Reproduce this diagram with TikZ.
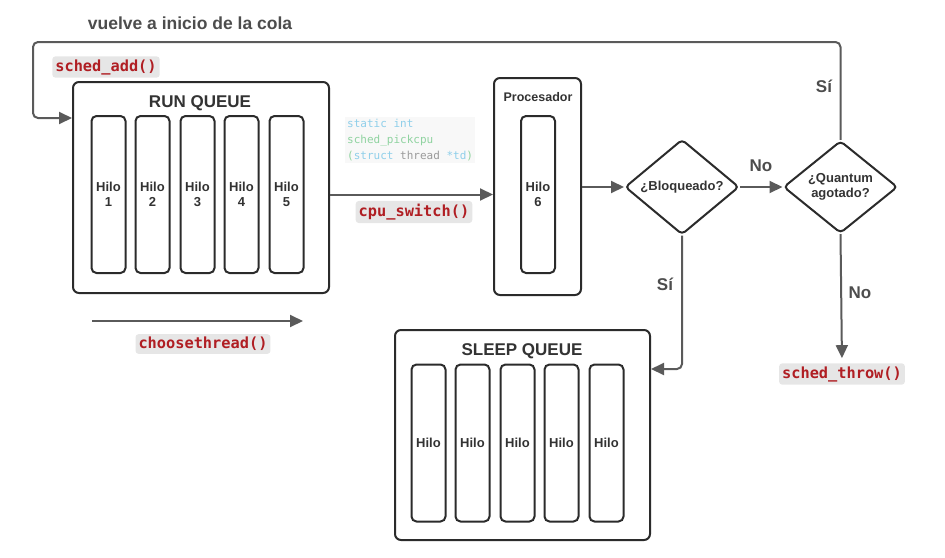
\documentclass[tikz,border=0pt]{standalone}
\usepackage{fontspec}
\setmainfont{Liberation Sans}
\newfontfamily\codefont{DejaVu Sans Mono}
\usetikzlibrary{arrows.meta,shapes.geometric,calc}
\definecolor{boxline}{HTML}{2B2B2B}
\definecolor{arrline}{HTML}{5A5A5A}
\definecolor{txt}{HTML}{333333}
\definecolor{lbl}{HTML}{4D4D4D}
\definecolor{codebg}{HTML}{E6E6E6}
\definecolor{codered}{HTML}{B01E23}
\definecolor{cblue}{HTML}{8FCFEA}
\definecolor{cgreen}{HTML}{8FD3A0}
\definecolor{cgray}{HTML}{9A9A9A}
\definecolor{lightbg}{HTML}{F8F8F8}
\tikzset{
  outerbox/.style={draw=boxline,line width=2pt,rounded corners=6pt,inner sep=0pt},
  hilobox/.style={draw=boxline,line width=2pt,rounded corners=5pt,minimum width=34pt,minimum height=157pt,inner sep=0pt,align=center,font=\fontsize{13}{15}\selectfont\bfseries,text=txt},
  decision/.style={diamond,draw=boxline,line width=2pt,rounded corners=4pt,minimum width=114pt,minimum height=88pt,inner sep=0pt,align=center,font=\fontsize{13}{15.5}\selectfont\bfseries,text=txt},
  codelabel/.style={fill=codebg,rounded corners=3pt,inner xsep=3pt,inner ysep=3pt,text=codered,font=\codefont\fontsize{15.3}{17}\selectfont\bfseries},
  arrow/.style={draw=arrline,line width=2pt,-{Triangle[length=13pt,width=12pt]}},
  plain/.style={draw=arrline,line width=2pt},
  edgelabel/.style={text=lbl,font=\fontsize{17}{19}\selectfont\bfseries},
  boxtitle/.style={text=txt,font=\fontsize{17}{19}\selectfont\bfseries},
}
\begin{document}
\begin{tikzpicture}[x=1pt,y=-1pt]
\useasboundingbox (0,0) rectangle (945,557);

% title
\node[text=lbl,font=\fontsize{17.5}{20}\selectfont\bfseries] (title) at (190,23) {vuelve a inicio de la cola};

% run queue
\node[outerbox,minimum width=256pt,minimum height=211pt] (rq) at (201,187.5) {};
\node[boxtitle] (rqt) at (200,103) {RUN QUEUE};
\node[hilobox] (h1) at (108.5,194.5) {Hilo\\1};
\node[hilobox] (h2) at (152.5,194.5) {Hilo\\2};
\node[hilobox] (h3) at (197.5,194.5) {Hilo\\3};
\node[hilobox] (h4) at (241.5,194.5) {Hilo\\4};
\node[hilobox] (h5) at (286.5,194.5) {Hilo\\5};

% sched_add
\node[codelabel] (sa) at (106,67) {sched\_add()};

% processor
\node[outerbox,minimum width=87pt,minimum height=217pt] (proc) at (537.5,186.5) {};
\node[text=txt,font=\fontsize{12.5}{15}\selectfont\bfseries] (proct) at (538,97) {Procesador};
\node[hilobox] (h6) at (538,194.5) {Hilo\\6};

% code snippet
\node[fill=lightbg,anchor=north west,inner sep=2pt,align=left,font=\codefont\fontsize{11}{16}\selectfont] (snip) at (345,117)
  {\textcolor{cblue}{static int}\\
   \textcolor{cgreen}{sched\_pickcpu}\\
   \textcolor{cgreen}{(}\textcolor{cblue}{struct} \textcolor{cgray}{thread} \textcolor{cblue}{*td}\textcolor{cgreen}{)}};
\node[codelabel] (cs) at (414,212) {cpu\_switch()};

% decisions
\node[decision] (blq) at (682,187) {¿Bloqueado?};
\node[decision] (qnt) at (840.5,187) {¿Quantum\\agotado?};

% sleep queue
\node[outerbox,minimum width=255pt,minimum height=210pt] (sq) at (522.5,435) {};
\node[boxtitle] (sqt) at (522,351) {SLEEP QUEUE};
\node[hilobox] (s1) at (428.5,443) {Hilo};
\node[hilobox] (s2) at (472.5,443) {Hilo};
\node[hilobox] (s3) at (517.5,443) {Hilo};
\node[hilobox] (s4) at (561.5,443) {Hilo};
\node[hilobox] (s5) at (606.5,443) {Hilo};

% choosethread
\coordinate (ctA) at (92,321);
\coordinate (ctB) at (303,321);
\draw[arrow] (ctA) -- (ctB);
\node[codelabel] (ct) at (203,344) {choosethread()};

% sched_throw
\node[codelabel] (st) at (842,374) {sched\_throw()};

% connectors
\draw[arrow] (rq.east |- h3) -- (proc.west |- h3);
\draw[arrow] (proc.east |- blq) -- (blq.west);
\draw[arrow] (blq.east) -- (qnt.west);
\node[edgelabel] (no1) at (761,166) {No};
\draw[arrow,rounded corners=5pt] (qnt.north) -- (qnt.north |- 0,42) -- (33,42) -- (33,118) -- (rq.west |- 0,118);
\node[edgelabel] (si1) at (824,86) {Sí};
\draw[arrow,shorten >=5pt] (qnt.south) -- (st.north);
\node[edgelabel] (no2) at (860,293) {No};
\draw[arrow,rounded corners=5pt] (blq.south) -- (blq.south |- 0,369) -- (sq.east |- 0,369);
\node[edgelabel] (si2) at (665,284) {Sí};
\end{tikzpicture}
\end{document}
